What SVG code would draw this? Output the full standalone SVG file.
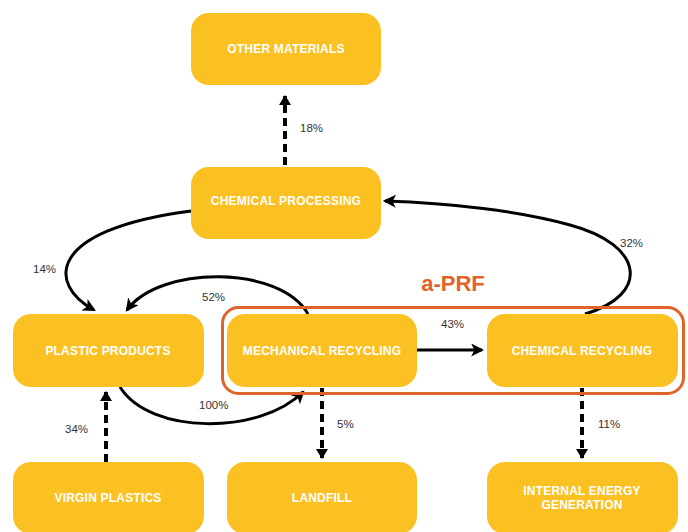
<svg xmlns="http://www.w3.org/2000/svg" width="688" height="532" viewBox="0 0 688 532">
<style>
.node rect{fill:#FBC122;}
.node text{fill:#fff;font-family:"Liberation Sans",Arial,sans-serif;font-weight:bold;font-size:12px;letter-spacing:0.2px;text-anchor:middle;}
.lbl{fill:#333;font-family:"Liberation Sans",Arial,sans-serif;font-size:11.5px;}
.solid{fill:none;stroke:#000;stroke-width:3;marker-end:url(#ah);}
.dash{fill:none;stroke:#000;stroke-width:4;stroke-dasharray:8 5;marker-end:url(#dh);}
</style>
<defs>
<marker id="ah" viewBox="0 0 12 12" refX="10" refY="6" markerWidth="13" markerHeight="13" orient="auto" markerUnits="userSpaceOnUse">
<path d="M0,0 L12,6 L0,12 L3,6 z" fill="#000"/>
</marker>
<marker id="dh" viewBox="0 0 10 12" refX="9" refY="6" markerWidth="10" markerHeight="12" orient="auto" markerUnits="userSpaceOnUse">
<path d="M0,0 L10,6 L0,12 z" fill="#000"/>
</marker>
</defs>
<rect width="688" height="532" fill="#fff"/>
<g id="connectors">
<path class="dash" d="M285,165 L285,96"/>
<path class="solid" d="M191,211 C45,230 48,285 94,310"/>
<path class="solid" d="M308,314 C280,265 160,265 127,310"/>
<path class="solid" d="M120,387 C150,435 260,435 303,392"/>
<path class="solid" d="M417,350 L482,350"/>
<path class="solid" d="M585,314 C650,295 645,245 570,225 C520,211 450,203 385,201"/>
<path class="dash" d="M106,462 L106,392"/>
<path class="dash" d="M322,388 L322,458"/>
<path class="dash" d="M582,388 L582,458"/>
</g>
<g id="aprf">
<rect x="222.5" y="307.5" width="461" height="86" rx="16" fill="none" stroke="#E0632B" stroke-width="3"/>
<text x="453" y="291" fill="#E0632B" font-family="'Liberation Sans',Arial,sans-serif" font-weight="bold" font-size="22" text-anchor="middle">a-PRF</text>
</g>
<g id="other-materials" class="node"><rect x="191" y="13" width="190" height="72" rx="18"/><text x="286" y="53">OTHER MATERIALS</text></g>
<g id="chemical-processing" class="node"><rect x="191" y="167" width="190" height="72" rx="18"/><text x="286" y="205">CHEMICAL PROCESSING</text></g>
<g id="plastic-products" class="node"><rect x="13" y="314" width="191" height="73" rx="18"/><text x="108" y="355">PLASTIC PRODUCTS</text></g>
<g id="mechanical-recycling" class="node"><rect x="227" y="314" width="190" height="73" rx="18"/><text x="322" y="355">MECHANICAL RECYCLING</text></g>
<g id="chemical-recycling" class="node"><rect x="487" y="314" width="191" height="73" rx="18"/><text x="582" y="355">CHEMICAL RECYCLING</text></g>
<g id="virgin-plastics" class="node"><rect x="13" y="462" width="191" height="72" rx="18"/><text x="108" y="502">VIRGIN PLASTICS</text></g>
<g id="landfill" class="node"><rect x="227" y="462" width="190" height="72" rx="18"/><text x="322" y="502">LANDFILL</text></g>
<g id="internal-energy" class="node"><rect x="487" y="462" width="191" height="72" rx="18"/><text x="582" y="495">INTERNAL ENERGY</text><text x="582" y="509">GENERATION</text></g>
<g id="labels">
<text class="lbl" x="300" y="132">18%</text>
<text class="lbl" x="33" y="273">14%</text>
<text class="lbl" x="202" y="301">52%</text>
<text class="lbl" x="441" y="328">43%</text>
<text class="lbl" x="620" y="247">32%</text>
<text class="lbl" x="199" y="409">100%</text>
<text class="lbl" x="65" y="433">34%</text>
<text class="lbl" x="337" y="428">5%</text>
<text class="lbl" x="598" y="428">11%</text>
</g>
</svg>
